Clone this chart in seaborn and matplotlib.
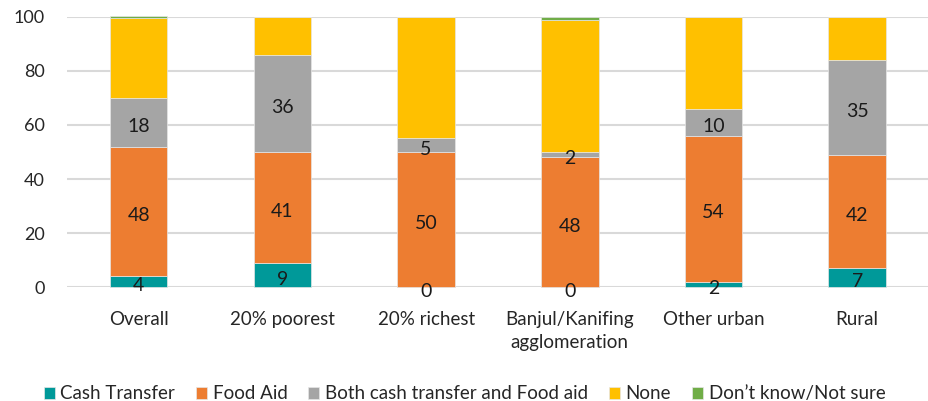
import pandas as pd
import matplotlib
matplotlib.use('Agg')
import matplotlib.pyplot as plt
import seaborn as sns

categories = ['Overall', '20% poorest', '20% richest', 'Banjul/Kanifing\nagglomeration', 'Other urban', 'Rural']
cash_transfer = [4, 9, 0, 0, 2, 7]
food_aid = [48, 41, 50, 48, 54, 42]
both = [18, 36, 5, 2, 10, 35]
none = [29.5, 14, 45, 49, 34, 16]
dont_know = [0.7, 0, 0, 1, 0, 0]

series = ['Cash Transfer', 'Food Aid', 'Both cash transfer and Food aid', 'None', 'Don\u2019t know/Not sure']
values = [cash_transfer, food_aid, both, none, dont_know]
colors = ['#009999', '#ED7D31', '#A5A5A5', '#FFC000', '#70AD47']
show_labels = [True, True, True, False, False]

sns.set_style('white')
plt.rcParams['font.family'] = ['Lato', 'DejaVu Sans']

fig = plt.figure(figsize=(9.29, 4.01), dpi=100)
ax = fig.add_axes([0.072, 0.284, 0.928, 0.674])

bottom = [0] * len(categories)
for name, vals, col, lab in zip(series, values, colors, show_labels):
    df = pd.DataFrame({'cat': categories, 'val': vals})
    sns.barplot(data=df, x='cat', y='val', color=col, saturation=1, width=0.4, bottom=bottom,
                edgecolor='#E6E6E6', linewidth=0.5, label=name, ax=ax, zorder=3)
    cont = ax.containers[-1]
    for rect in cont:
        rect.set_clip_on(False)
    if lab:
        for rect, v, b in zip(cont, vals, bottom):
            ax.text(rect.get_x() + rect.get_width() / 2, b + v / 2 - 1.5, f'{v:g}',
                    ha='center', va='center', fontsize=14, color='#1a1a1a', zorder=5)
    bottom = [b + v for b, v in zip(bottom, vals)]

ax.set_ylim(0, 100)
ax.set_xlim(-0.5, 5.5)
ax.set_yticks(range(0, 101, 20))
ax.yaxis.grid(True, color='#D9D9D9', linewidth=1.5, zorder=0)
ax.set_axisbelow(True)
for s in ax.spines.values():
    s.set_visible(False)
ax.tick_params(axis='y', length=0, pad=16, labelsize=13)
ax.tick_params(axis='x', length=0, pad=17, labelsize=13.5)
for t in ax.get_xticklabels():
    t.set_linespacing(1.45)
ax.set_xlabel('')
ax.set_ylabel('')
ax.legend().remove()

handles, labels = ax.get_legend_handles_labels()
fig.legend(handles, labels, loc='lower center', bbox_to_anchor=(0.5, -0.045), ncol=5,
           frameon=False, fontsize=13.5, handlelength=0.6, handleheight=0.6,
           handletextpad=0.3, columnspacing=1.1)

fig.savefig('out.png', dpi=100)
